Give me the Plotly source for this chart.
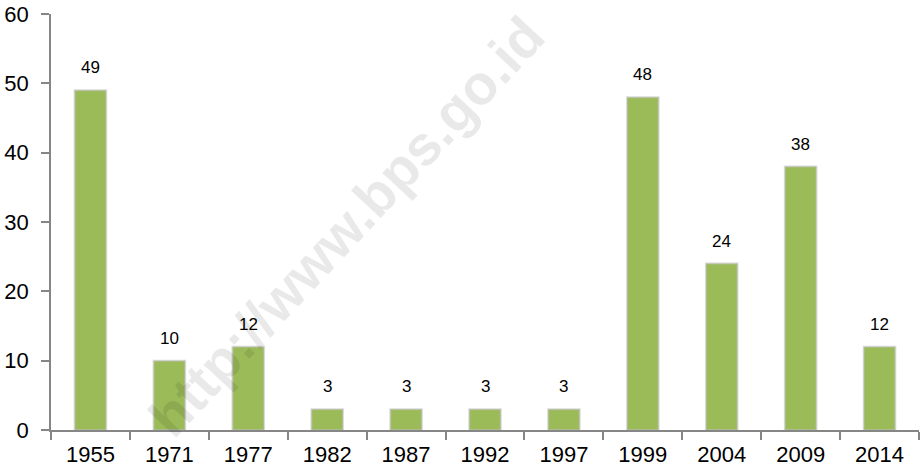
import plotly.graph_objects as go

# data
years = ["1955", "1971", "1977", "1982", "1987", "1992", "1997", "1999", "2004", "2009", "2014"]
values = [49, 10, 12, 3, 3, 3, 3, 48, 24, 38, 12]
y_ticks = [0, 10, 20, 30, 40, 50, 60]

BAR_GREEN = "#9bbb59"
AXIS_GRAY = "#868686"
FONT = "Liberation Sans, Arial, sans-serif"

fig = go.Figure()
fig.add_trace(go.Bar(
    x=years, y=values,
    marker=dict(color=BAR_GREEN, line=dict(color="rgba(190,190,190,0.55)", width=2)),
    width=0.4,
    hoverinfo="x+y",
))

# data labels above bars (category index, since the years look numeric)
for i, v in enumerate(values):
    fig.add_annotation(x=i, y=v, text=str(v), showarrow=False,
                       yanchor="bottom", yshift=11,
                       font=dict(family=FONT, size=17, color="#000000"))

# diagonal watermark
fig.add_annotation(text="http://www.bps.go.id", xref="paper", yref="paper",
                   x=0.34, y=0.49, showarrow=False, textangle=-47,
                   font=dict(family=FONT, size=56, color="rgba(0,0,0,0.085)", weight="bold"))

fig.update_layout(
    width=921, height=475,
    margin=dict(l=51, r=2, t=14, b=45),
    paper_bgcolor="white", plot_bgcolor="white",
    showlegend=False,
    font=dict(family=FONT, color="#000000"),
    xaxis=dict(
        type="category", range=[-0.5, len(years) - 0.5], automargin=False,
        showgrid=False, showline=True, linecolor=AXIS_GRAY, linewidth=1.5,
        ticks="outside", tickson="boundaries", ticklen=8, tickcolor=AXIS_GRAY, tickwidth=1.5,
        tickfont=dict(family=FONT, size=22), ticklabelstandoff=4, tickangle=0,
    ),
    yaxis=dict(
        range=[0, 60], tickvals=y_ticks, automargin=False,
        showgrid=False, zeroline=False,
        showline=True, linecolor=AXIS_GRAY, linewidth=1.5,
        ticks="outside", ticklen=8, tickcolor=AXIS_GRAY, tickwidth=1.5,
        tickfont=dict(family=FONT, size=22), ticklabelstandoff=8,
    ),
)

# page body has a default 8px margin; drop it so the chart fills the window
fig.write_html("out.html", config={"displayModeBar": False},
               post_script="document.body.style.margin='0';")
